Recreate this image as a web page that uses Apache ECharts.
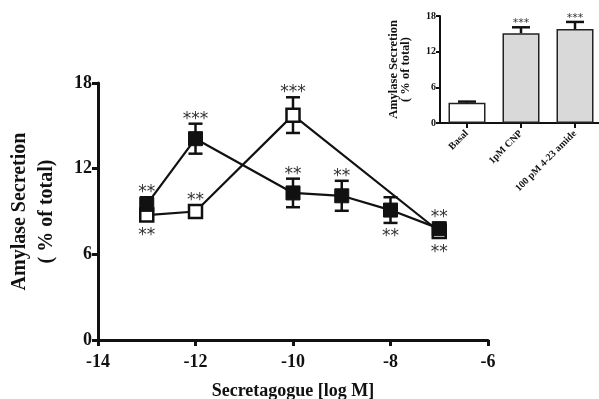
<!DOCTYPE html>
<html><head><meta charset="utf-8">
<script src="https://cdn.jsdelivr.net/npm/echarts@6/dist/echarts.min.js"></script>
<style>html,body{margin:0;padding:0;background:#fff}#c{width:599px;height:399px}</style>
</head><body><div id="c"></div>
<script>
// Main chart data
var xTicks = [-14, -12, -10, -8, -6];
var yTicks = [0, 6, 12, 18];
var filledX = [-13, -12, -10, -9, -8, -7];
var filledY = [9.5, 14.1, 10.3, 10.1, 9.1, 7.8];
var filledErr = [0.5, 1.05, 1.0, 1.05, 0.9, 0.3];
var filledStars = ['**', '***', '**', '**', '**', '**'];
var filledSide = ['up', 'up', 'up', 'up', 'down', 'up'];
var openX = [-13, -12, -10, -7];
var openY = [8.75, 9.0, 15.75, 7.6];
var openErr = [0.3, 0.3, 1.25, 0.3];
var openStars = ['**', '**', '***', '**'];
var openSide = ['down', 'up', 'up', 'down'];
// Inset data
var insetCats = ['Basal', '1pM CNP', '100 pM 4-23 amide'];
var insetVals = [3.4, 15.1, 15.8];
var insetErr = [0.2, 1.0, 1.2];
var insetStars = ['', '***', '***'];
var insetTicks = [0, 6, 12, 18];

var FONT = '"Liberation Serif", "Times New Roman", serif';
var chart = echarts.init(document.getElementById('c'), null, {renderer: 'canvas'});

function pairs(xs, ys) { return xs.map(function (x, i) { return [x, ys[i]]; }); }
function errData(xs, ys, es) { return xs.map(function (x, i) { return [x, ys[i], es[i]]; }); }

function errRender(cap, upOnly) {
  return function (params, api) {
    var x = api.value(0), y = api.value(1), e = api.value(2);
    var top = api.coord([x, y + e]);
    var bot = api.coord(upOnly ? [x, y] : [x, y - e]);
    var st = {stroke: '#111', lineWidth: 2.5};
    var ch = [
      {type: 'line', shape: {x1: top[0], y1: top[1], x2: bot[0], y2: bot[1]}, style: st},
      {type: 'line', shape: {x1: top[0] - cap, y1: top[1], x2: top[0] + cap, y2: top[1]}, style: st}
    ];
    if (!upOnly) ch.push({type: 'line', shape: {x1: bot[0] - cap, y1: bot[1], x2: bot[0] + cap, y2: bot[1]}, style: st});
    return {type: 'group', children: ch};
  };
}

function starRender(stars, sides, half, gap, size) {
  return function (params, api) {
    var i = params.dataIndex;
    var x = api.value(0), y = api.value(1), e = api.value(2);
    var c = api.coord([x, y]);
    var up = sides[i] === 'up';
    var ePx = Math.abs(api.coord([x, y + e])[1] - c[1]);
    var d = Math.max(ePx, half) + gap;
    return {type: 'text', style: {text: stars[i], x: c[0], y: c[1] + (up ? -d : d) + size * 0.28,
      align: 'center', verticalAlign: 'middle', fill: '#333', font: size + 'px "DejaVu Sans", sans-serif'}};
  };
}

var axisCommon = {
  axisLine: {show: true, lineStyle: {color: '#111', width: 3}},
  axisTick: {show: true, length: 6, lineStyle: {color: '#111', width: 3}},
  splitLine: {show: false}
};

var option = {
  animation: false,
  backgroundColor: '#fff',
  grid: [
    {left: 98, right: 111, top: 83, bottom: 59, outerBoundsMode: 'none', containLabel: false},
    {left: 440, top: 16, width: 162, height: 107, outerBoundsMode: 'none', containLabel: false}
  ],
  xAxis: [
    Object.assign({}, axisCommon, {
      type: 'value', gridIndex: 0, min: -14, max: -6, interval: 2,
      axisLabel: {color: '#111', fontFamily: FONT, fontWeight: 'bold', fontSize: 18, margin: 13,
        formatter: function (v) { return xTicks.indexOf(v) >= 0 ? String(v) : ''; }},
      name: 'Secretagogue [log M]', nameLocation: 'middle', nameGap: 42,
      nameTextStyle: {color: '#111', fontFamily: FONT, fontWeight: 'bold', fontSize: 18}
    }),
    Object.assign({}, axisCommon, {
      type: 'category', gridIndex: 1, data: insetCats,
      axisLine: {show: true, lineStyle: {color: '#111', width: 2}},
      axisTick: {show: true, alignWithLabel: true, length: 5, lineStyle: {color: '#111', width: 2}},
      axisLabel: {color: '#111', fontFamily: FONT, fontWeight: 'bold', fontSize: 10, rotate: 45, margin: 9, interval: 0}
    })
  ],
  yAxis: [
    Object.assign({}, axisCommon, {
      type: 'value', gridIndex: 0, min: 0, max: 18, interval: 6,
      axisLabel: {color: '#111', fontFamily: FONT, fontWeight: 'bold', fontSize: 18, margin: 6,
        formatter: function (v) { return yTicks.indexOf(v) >= 0 ? String(v) : ''; }},
      name: 'Amylase Secretion\n( % of total)', nameLocation: 'middle', nameGap: 38, nameRotate: 90,
      nameTextStyle: {color: '#111', fontFamily: FONT, fontWeight: 'bold', fontSize: 20, lineHeight: 27}
    }),
    Object.assign({}, axisCommon, {
      type: 'value', gridIndex: 1, min: 0, max: 18, interval: 6,
      axisLine: {show: true, lineStyle: {color: '#111', width: 2}},
      axisTick: {show: true, length: 4, lineStyle: {color: '#111', width: 2}},
      axisLabel: {color: '#111', fontFamily: FONT, fontWeight: 'bold', fontSize: 10, margin: 4,
        formatter: function (v) { return insetTicks.indexOf(v) >= 0 ? String(v) : ''; }},
      name: 'Amylase Secretion\n( % of total)', nameLocation: 'middle', nameGap: 28, nameRotate: 90,
      nameTextStyle: {color: '#111', fontFamily: FONT, fontWeight: 'bold', fontSize: 12.5, lineHeight: 12}
    })
  ],
  series: [
    {type: 'custom', xAxisIndex: 0, yAxisIndex: 0, z: 1, renderItem: errRender(7, false),
      data: errData(openX, openY, openErr)},
    {type: 'custom', xAxisIndex: 0, yAxisIndex: 0, z: 1, renderItem: errRender(7, false),
      data: errData(filledX, filledY, filledErr)},
    {type: 'line', xAxisIndex: 0, yAxisIndex: 0, z: 2, data: pairs(openX, openY),
      lineStyle: {color: '#111', width: 2.2}, symbol: 'rect', symbolSize: 13,
      itemStyle: {color: '#fff', borderColor: '#111', borderWidth: 2.5}},
    {type: 'line', xAxisIndex: 0, yAxisIndex: 0, z: 3, data: pairs(filledX, filledY),
      lineStyle: {color: '#111', width: 2.2}, symbol: 'rect', symbolSize: 14,
      itemStyle: {color: '#111', borderColor: '#111', borderWidth: 1}},
    {type: 'custom', xAxisIndex: 0, yAxisIndex: 0, z: 4, renderItem: starRender(filledStars, filledSide, 7, 9, 17),
      data: errData(filledX, filledY, filledErr)},
    {type: 'custom', xAxisIndex: 0, yAxisIndex: 0, z: 4, renderItem: starRender(openStars, openSide, 7, 9, 17),
      data: errData(openX, openY, openErr)},
    {type: 'bar', xAxisIndex: 1, yAxisIndex: 1, barWidth: 37, z: 2,
      data: insetVals.map(function (v, i) { return {value: v, itemStyle: {color: i === 0 ? '#fff' : '#d9d9d9'}}; }),
      itemStyle: {borderColor: '#222', borderWidth: 1.5}},
    {type: 'custom', xAxisIndex: 1, yAxisIndex: 1, z: 1, renderItem: errRender(9, true),
      data: insetCats.map(function (c, i) { return [i, insetVals[i], insetErr[i]]; })},
    {type: 'custom', xAxisIndex: 1, yAxisIndex: 1, z: 4, renderItem: starRender(insetStars, ['up', 'up', 'up'], 0, 7, 11),
      data: insetCats.map(function (c, i) { return [i, insetVals[i], insetErr[i]]; })}
  ]
};
chart.setOption(option);
</script>
</body></html>
